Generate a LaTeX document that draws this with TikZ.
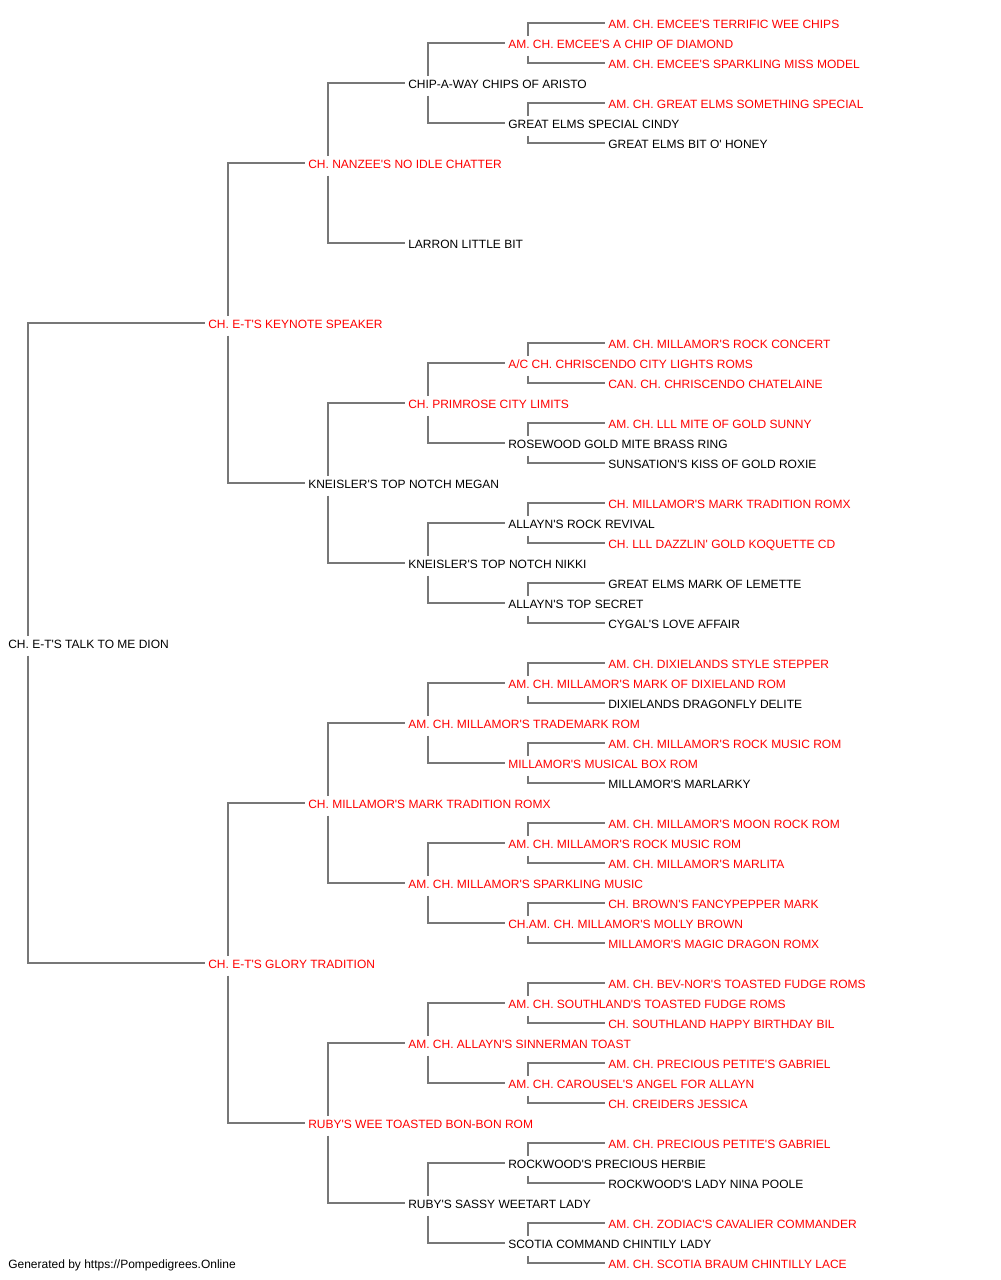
\documentclass[tikz,border=0pt]{standalone}
\usepackage{fontspec}
\setmainfont{Liberation Sans}[Ligatures=TeXOff]
\definecolor{champred}{RGB}{255,0,0}
\definecolor{linegray}{RGB}{119,119,119}
\newcommand\pedup[2]{\draw[conn] ([xshift=17.25pt]#1.north west) |- ([yshift=4.2pt]#2.base west);}
\newcommand\peddown[2]{\draw[conn] ([xshift=17.25pt]#1.south west) |- ([yshift=4.2pt]#2.base west);}
\tikzset{
  dog/.style={anchor=base west, inner xsep=2.25pt, inner ysep=3pt, text height=6.5pt, text depth=2pt, font=\fontsize{9pt}{11pt}\selectfont},
  champ/.style={dog, text=champred},
  nonchamp/.style={dog, text=black},
  conn/.style={draw=linegray, line width=1.2pt}
}
\begin{document}
\begin{tikzpicture}[x=0.75pt,y=-0.75pt]
\fill[white] (0,0) rectangle (1000,1280);
\useasboundingbox (0,0) rectangle (1000,1280);
\begin{scope}[yshift=-0.75pt]
% generation 0
\node[nonchamp] (n31) at (5,647.8) {CH. E-T'S TALK TO ME DION};
% generation 1
\node[champ] (n15) at (205,327.8) {CH. E-T'S KEYNOTE SPEAKER};
\node[champ] (n47) at (205,967.8) {CH. E-T'S GLORY TRADITION};
% generation 2
\node[champ] (n7) at (305,167.8) {CH. NANZEE'S NO IDLE CHATTER};
\node[nonchamp] (n23) at (305,487.8) {KNEISLER'S TOP NOTCH MEGAN};
\node[champ] (n39) at (305,807.8) {CH. MILLAMOR'S MARK TRADITION ROMX};
\node[champ] (n55) at (305,1127.8) {RUBY'S WEE TOASTED BON-BON ROM};
% generation 3
\node[nonchamp] (n3) at (405,87.8) {CHIP-A-WAY CHIPS OF ARISTO};
\node[nonchamp] (n11) at (405,247.8) {LARRON LITTLE BIT};
\node[champ] (n19) at (405,407.8) {CH. PRIMROSE CITY LIMITS};
\node[nonchamp] (n27) at (405,567.8) {KNEISLER'S TOP NOTCH NIKKI};
\node[champ] (n35) at (405,727.8) {AM. CH. MILLAMOR'S TRADEMARK ROM};
\node[champ] (n43) at (405,887.8) {AM. CH. MILLAMOR'S SPARKLING MUSIC};
\node[champ] (n51) at (405,1047.8) {AM. CH. ALLAYN'S SINNERMAN TOAST};
\node[nonchamp] (n59) at (405,1207.8) {RUBY'S SASSY WEETART LADY};
% generation 4
\node[champ] (n1) at (505,47.8) {AM. CH. EMCEE'S A CHIP OF DIAMOND};
\node[nonchamp] (n5) at (505,127.8) {GREAT ELMS SPECIAL CINDY};
\node[champ] (n17) at (505,367.8) {A/C CH. CHRISCENDO CITY LIGHTS ROMS};
\node[nonchamp] (n21) at (505,447.8) {ROSEWOOD GOLD MITE BRASS RING};
\node[nonchamp] (n25) at (505,527.8) {ALLAYN'S ROCK REVIVAL};
\node[nonchamp] (n29) at (505,607.8) {ALLAYN'S TOP SECRET};
\node[champ] (n33) at (505,687.8) {AM. CH. MILLAMOR'S MARK OF DIXIELAND ROM};
\node[champ] (n37) at (505,767.8) {MILLAMOR'S MUSICAL BOX ROM};
\node[champ] (n41) at (505,847.8) {AM. CH. MILLAMOR'S ROCK MUSIC ROM};
\node[champ] (n45) at (505,927.8) {CH.AM. CH. MILLAMOR'S MOLLY BROWN};
\node[champ] (n49) at (505,1007.8) {AM. CH. SOUTHLAND'S TOASTED FUDGE ROMS};
\node[champ] (n53) at (505,1087.8) {AM. CH. CAROUSEL'S ANGEL FOR ALLAYN};
\node[nonchamp] (n57) at (505,1167.8) {ROCKWOOD'S PRECIOUS HERBIE};
\node[nonchamp] (n61) at (505,1247.8) {SCOTIA COMMAND CHINTILY LADY};
% generation 5
\node[champ] (n0) at (605,27.8) {AM. CH. EMCEE'S TERRIFIC WEE CHIPS};
\node[champ] (n2) at (605,67.8) {AM. CH. EMCEE'S SPARKLING MISS MODEL};
\node[champ] (n4) at (605,107.8) {AM. CH. GREAT ELMS SOMETHING SPECIAL};
\node[nonchamp] (n6) at (605,147.8) {GREAT ELMS BIT O' HONEY};
\node[champ] (n16) at (605,347.8) {AM. CH. MILLAMOR'S ROCK CONCERT};
\node[champ] (n18) at (605,387.8) {CAN. CH. CHRISCENDO CHATELAINE};
\node[champ] (n20) at (605,427.8) {AM. CH. LLL MITE OF GOLD SUNNY};
\node[nonchamp] (n22) at (605,467.8) {SUNSATION'S KISS OF GOLD ROXIE};
\node[champ] (n24) at (605,507.8) {CH. MILLAMOR'S MARK TRADITION ROMX};
\node[champ] (n26) at (605,547.8) {CH. LLL DAZZLIN' GOLD KOQUETTE CD};
\node[nonchamp] (n28) at (605,587.8) {GREAT ELMS MARK OF LEMETTE};
\node[nonchamp] (n30) at (605,627.8) {CYGAL'S LOVE AFFAIR};
\node[champ] (n32) at (605,667.8) {AM. CH. DIXIELANDS STYLE STEPPER};
\node[nonchamp] (n34) at (605,707.8) {DIXIELANDS DRAGONFLY DELITE};
\node[champ] (n36) at (605,747.8) {AM. CH. MILLAMOR'S ROCK MUSIC ROM};
\node[nonchamp] (n38) at (605,787.8) {MILLAMOR'S MARLARKY};
\node[champ] (n40) at (605,827.8) {AM. CH. MILLAMOR'S MOON ROCK ROM};
\node[champ] (n42) at (605,867.8) {AM. CH. MILLAMOR'S MARLITA};
\node[champ] (n44) at (605,907.8) {CH. BROWN'S FANCYPEPPER MARK};
\node[champ] (n46) at (605,947.8) {MILLAMOR'S MAGIC DRAGON ROMX};
\node[champ] (n48) at (605,987.8) {AM. CH. BEV-NOR'S TOASTED FUDGE ROMS};
\node[champ] (n50) at (605,1027.8) {CH. SOUTHLAND HAPPY BIRTHDAY BIL};
\node[champ] (n52) at (605,1067.8) {AM. CH. PRECIOUS PETITE'S GABRIEL};
\node[champ] (n54) at (605,1107.8) {CH. CREIDERS JESSICA};
\node[champ] (n56) at (605,1147.8) {AM. CH. PRECIOUS PETITE'S GABRIEL};
\node[nonchamp] (n58) at (605,1187.8) {ROCKWOOD'S LADY NINA POOLE};
\node[champ] (n60) at (605,1227.8) {AM. CH. ZODIAC'S CAVALIER COMMANDER};
\node[champ] (n62) at (605,1267.8) {AM. CH. SCOTIA BRAUM CHINTILLY LACE};
% footer
\node[nonchamp] (footer) at (5,1267.8) {Generated by https://Pompedigrees.Online};
% connectors
\pedup{n31}{n15} \peddown{n31}{n47}
\pedup{n15}{n7} \peddown{n15}{n23}
\pedup{n47}{n39} \peddown{n47}{n55}
\pedup{n7}{n3} \peddown{n7}{n11}
\pedup{n23}{n19} \peddown{n23}{n27}
\pedup{n39}{n35} \peddown{n39}{n43}
\pedup{n55}{n51} \peddown{n55}{n59}
\pedup{n3}{n1} \peddown{n3}{n5}
\pedup{n19}{n17} \peddown{n19}{n21}
\pedup{n27}{n25} \peddown{n27}{n29}
\pedup{n35}{n33} \peddown{n35}{n37}
\pedup{n43}{n41} \peddown{n43}{n45}
\pedup{n51}{n49} \peddown{n51}{n53}
\pedup{n59}{n57} \peddown{n59}{n61}
\pedup{n1}{n0} \peddown{n1}{n2}
\pedup{n5}{n4} \peddown{n5}{n6}
\pedup{n17}{n16} \peddown{n17}{n18}
\pedup{n21}{n20} \peddown{n21}{n22}
\pedup{n25}{n24} \peddown{n25}{n26}
\pedup{n29}{n28} \peddown{n29}{n30}
\pedup{n33}{n32} \peddown{n33}{n34}
\pedup{n37}{n36} \peddown{n37}{n38}
\pedup{n41}{n40} \peddown{n41}{n42}
\pedup{n45}{n44} \peddown{n45}{n46}
\pedup{n49}{n48} \peddown{n49}{n50}
\pedup{n53}{n52} \peddown{n53}{n54}
\pedup{n57}{n56} \peddown{n57}{n58}
\pedup{n61}{n60} \peddown{n61}{n62}
\end{scope}
\end{tikzpicture}
\end{document}
